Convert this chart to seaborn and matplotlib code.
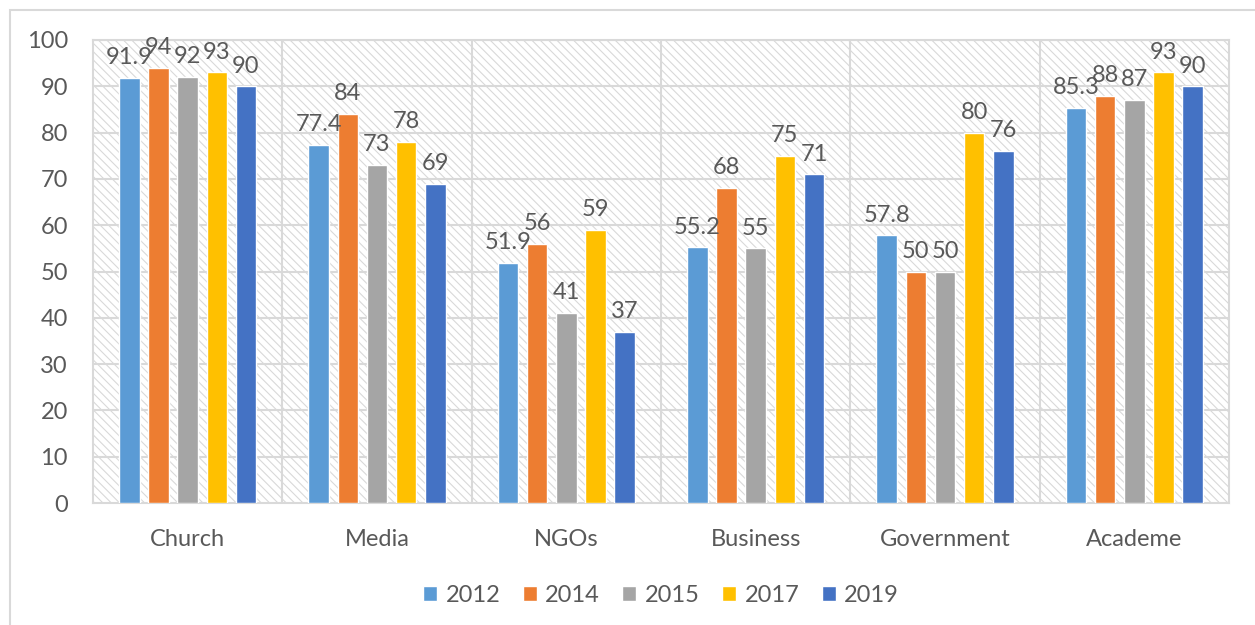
import numpy as np
import pandas as pd
import matplotlib
matplotlib.use("Agg")
import matplotlib.pyplot as plt
from matplotlib.patches import Rectangle
import seaborn as sns

categories = ["Church", "Media", "NGOs", "Business", "Government", "Academe"]
years = ["2012", "2014", "2015", "2017", "2019"]
v2012 = [91.9, 77.4, 51.9, 55.2, 57.8, 85.3]
v2014 = [94, 84, 56, 68, 50, 88]
v2015 = [92, 73, 41, 55, 50, 87]
v2017 = [93, 78, 59, 75, 80, 93]
v2019 = [90, 69, 37, 71, 76, 90]
colors = ["#5B9BD5", "#ED7D31", "#A5A5A5", "#FFC000", "#4472C4"]

series = [v2012, v2014, v2015, v2017, v2019]
df = pd.DataFrame({
    "category": categories * len(years),
    "year": [y for y in years for _ in categories],
    "value": [v for s in series for v in s],
})

sns.set_style("white")
plt.rcParams["font.family"] = ["Lato", "DejaVu Sans"]
plt.rcParams["hatch.linewidth"] = 0.8
text_col = "#595959"
grid_col = "#D9D9D9"

fig = plt.figure(figsize=(12.55, 6.25), dpi=100)
ax = fig.add_axes([93 / 1255, 1 - 503 / 625, (1229 - 93) / 1255, (503 - 40) / 625])

# outer chart border
fig.patches.append(Rectangle((10 / 1255, -0.1), 1.2, 1 - 10 / 625 + 0.1,
                             transform=fig.transFigure, fill=False,
                             edgecolor=grid_col, linewidth=1.5, zorder=0))

# hatched plot area
ax.add_patch(Rectangle((0, 0), 1, 1, transform=ax.transAxes, facecolor="white",
                       edgecolor=grid_col, hatch="\\\\\\\\", linewidth=0, zorder=0))

sns.barplot(data=df, x="category", y="value", hue="year", hue_order=years,
            palette=colors, width=0.77, gap=0.3, ax=ax, zorder=3,
            saturation=1, legend=True)

for c in ax.containers:
    ax.bar_label(c, fmt="%g", padding=7, fontsize=17, color=text_col, zorder=4)

ax.set_ylim(0, 100)
ax.set_xlim(-0.5, 5.5)
ax.set_yticks(np.arange(0, 101, 10))
for y in np.arange(10, 101, 10):
    ax.axhline(y, color=grid_col, linewidth=1.5, zorder=1)
for x in np.arange(0.5, 5.5, 1):
    ax.axvline(x, color=grid_col, linewidth=1.5, zorder=1)
for s in ax.spines.values():
    s.set_color(grid_col)
    s.set_linewidth(1.5)

ax.set_xlabel("")
ax.set_ylabel("")
ax.tick_params(axis="both", length=0, labelsize=17, colors=text_col)
ax.tick_params(axis="x", pad=19)
ax.tick_params(axis="y", pad=18)

ax.legend(loc="center", bbox_to_anchor=(0.5, -0.2), ncol=5, frameon=False,
          fontsize=17, labelcolor=text_col, handlelength=0.6, handleheight=0.6,
          handletextpad=0.35, columnspacing=0.95)

fig.savefig("out.png", dpi=100)
